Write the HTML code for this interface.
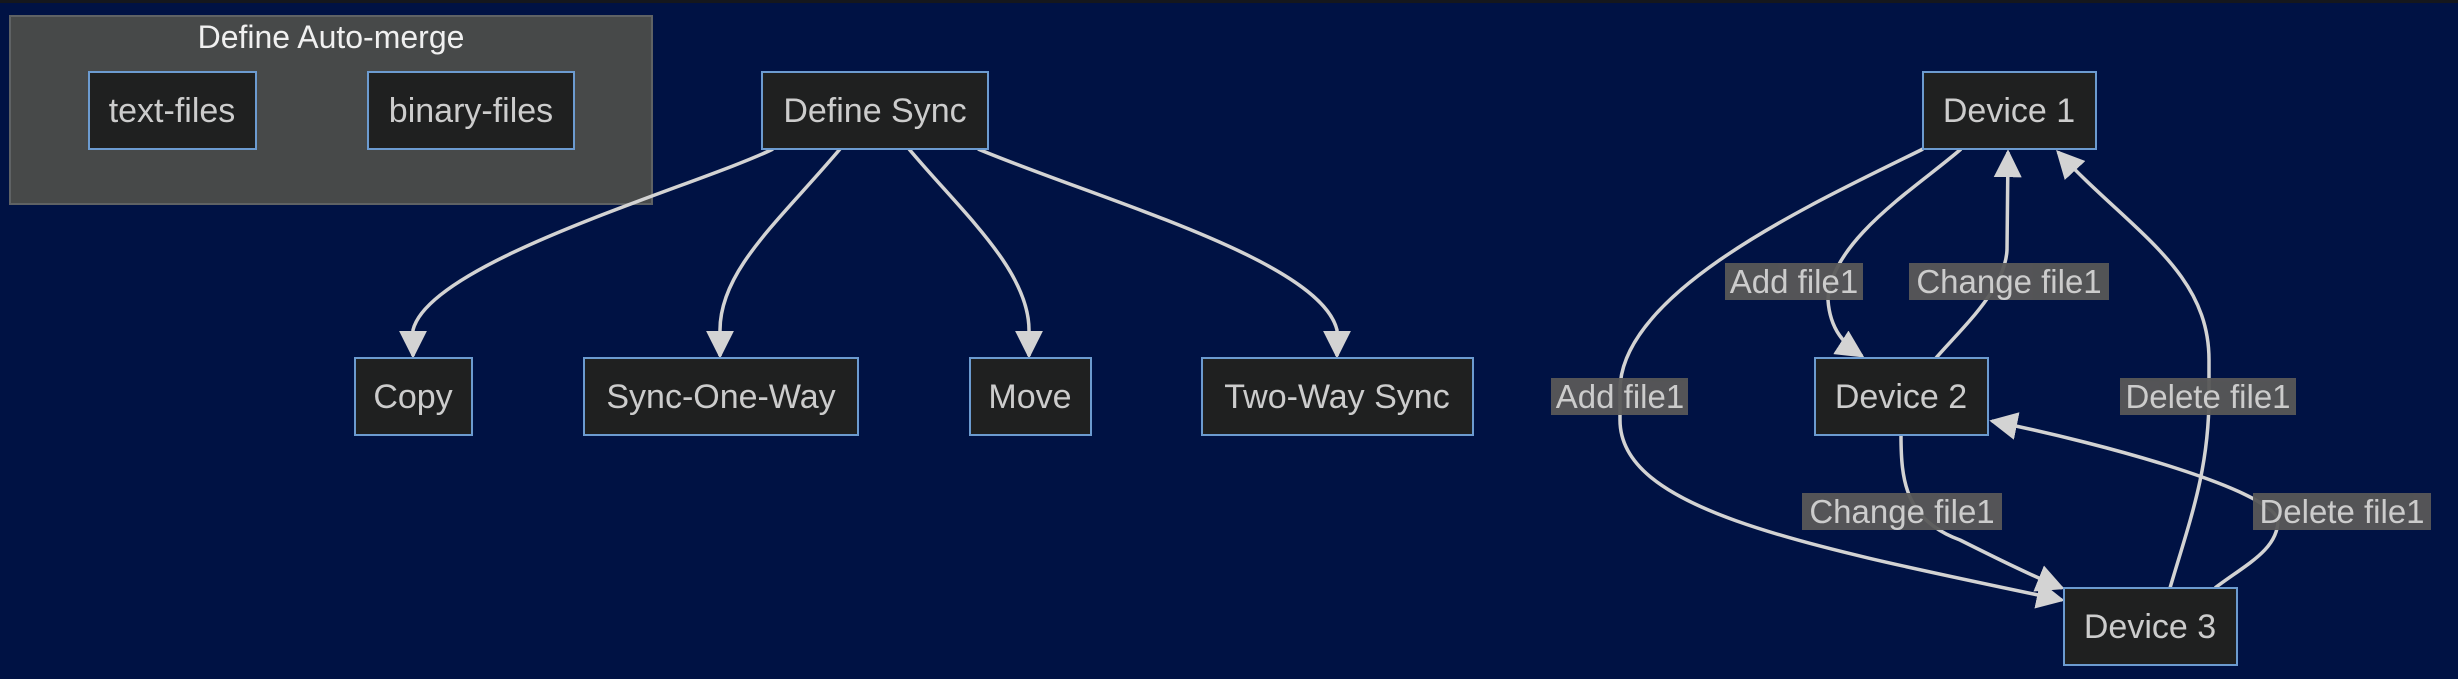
<!DOCTYPE html>
<html><head><meta charset="utf-8"><style>
html,body{margin:0;padding:0;background:#001244;}
svg{display:block}
text{font-family:"Liberation Sans",Arial,sans-serif;}
</style></head><body>
<svg width="2458" height="679" viewBox="0 0 2458 679" xmlns="http://www.w3.org/2000/svg">
<defs>
<marker id="a" viewBox="0 0 10 10" refX="9" refY="5" markerWidth="8" markerHeight="8" markerUnits="strokeWidth" orient="auto">
<path d="M0,0 L10,5 L0,10 z" fill="#d3d3d3"/></marker>
</defs>
<rect x="0" y="0" width="2458" height="679" fill="#001244"/>
<rect x="0" y="0" width="2458" height="3" fill="#15171d"/>
<rect x="10" y="16" width="642" height="188" fill="#474949" stroke="#5f6264" stroke-width="2"/>
<text x="331" y="48" font-size="32" fill="#f0f0f0" text-anchor="middle">Define Auto-merge</text>
<g stroke="#d3d3d3" stroke-width="3.5" fill="none">
<path d="M773,149 C700,185 430,260 413,330 L413,356" marker-end="url(#a)"/>
<path d="M840,149 C780,220 720,270 720,330 L720,356" marker-end="url(#a)"/>
<path d="M909,149 C960,210 1029,270 1029,330 L1029,356" marker-end="url(#a)"/>
<path d="M978,149 C1100,200 1320,260 1337,330 L1337,356" marker-end="url(#a)"/>
<path d="M1923,149 C1820,200 1620,290 1620,390 L1620,420 C1620,510 1800,545 2062,600" marker-end="url(#a)"/>
<path d="M1961,149 C1920,185 1830,240 1828,300 C1830,330 1845,345 1862,356" marker-end="url(#a)"/>
<path d="M1936,358 C1960,330 2005,290 2007,250 L2008,152" marker-end="url(#a)"/>
<path d="M2170,588 C2190,520 2209,470 2209,396 L2209,360 C2209,270 2130,230 2058,152" marker-end="url(#a)"/>
<path d="M1901,435 C1901,480 1905,520 1960,540 C1990,555 2030,575 2062,588" marker-end="url(#a)"/>
<path d="M2215,588 C2245,565 2278,550 2278,520 C2270,490 2110,445 1992,421" marker-end="url(#a)"/>
</g>
<g stroke="#6c9bd0" stroke-width="2" fill="#1f2020">
<rect x="89" y="72" width="167" height="77"/>
<rect x="368" y="72" width="206" height="77"/>
<rect x="762" y="72" width="226" height="77"/>
<rect x="355" y="358" width="117" height="77"/>
<rect x="584" y="358" width="274" height="77"/>
<rect x="970" y="358" width="121" height="77"/>
<rect x="1202" y="358" width="271" height="77"/>
<rect x="1923" y="72" width="173" height="77"/>
<rect x="1815" y="358" width="173" height="77"/>
<rect x="2064" y="588" width="173" height="77"/>
</g>
<g font-size="34" fill="#cccccc" text-anchor="middle">
<text x="172" y="122">text-files</text>
<text x="471" y="122">binary-files</text>
<text x="875" y="122">Define Sync</text>
<text x="413" y="408">Copy</text>
<text x="721" y="408">Sync-One-Way</text>
<text x="1030" y="408">Move</text>
<text x="1337" y="408">Two-Way Sync</text>
<text x="2009" y="122">Device 1</text>
<text x="1901" y="408">Device 2</text>
<text x="2150" y="638">Device 3</text>
</g>
<g fill="#585858" opacity="0.95">
<rect x="1725" y="263" width="138" height="37"/>
<rect x="1909" y="263" width="200" height="37"/>
<rect x="1551" y="378" width="137" height="37"/>
<rect x="2120" y="378" width="176" height="37"/>
<rect x="1802" y="493" width="200" height="37"/>
<rect x="2253" y="493" width="178" height="37"/>
</g>
<g font-size="33" fill="#cccccc" text-anchor="middle">
<text x="1794" y="293">Add file1</text>
<text x="2009" y="293">Change file1</text>
<text x="1620" y="408">Add file1</text>
<text x="2208" y="408">Delete file1</text>
<text x="1902" y="523">Change file1</text>
<text x="2342" y="523">Delete file1</text>
</g>
</svg>
</body></html>
